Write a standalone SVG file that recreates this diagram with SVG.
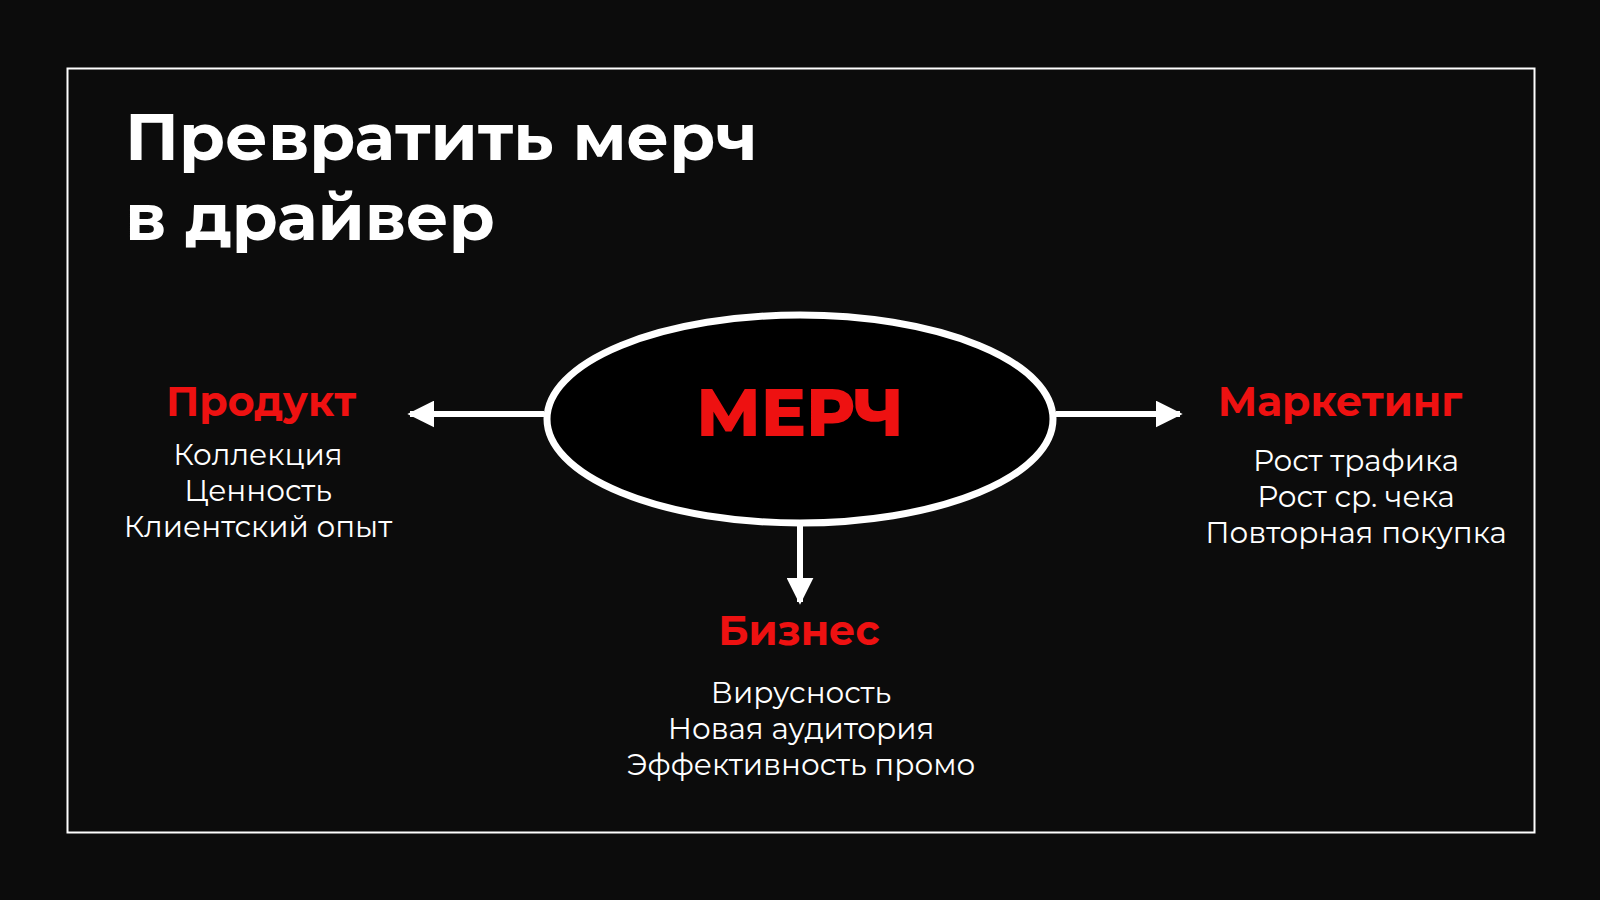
<svg xmlns="http://www.w3.org/2000/svg" width="1600" height="900" viewBox="0 0 1600 900">
<style>
.t{font-family:Montserrat,"Noto Sans","DejaVu Sans",sans-serif;fill:#fff}
.h{font-weight:700;fill:#ee1111;font-size:41px;text-anchor:middle}
.i{font-size:29.5px;text-anchor:middle}
.c{stroke:#fff;stroke-width:6;fill:none}
</style>
<defs><marker id="a" viewBox="0 0 10 10" refX="9" refY="5" markerWidth="4.5" markerHeight="4.5" orient="auto" markerUnits="strokeWidth"><path d="M0,0L10,5L0,10z" fill="#fff"/></marker></defs>
<rect width="1600" height="900" fill="#0c0c0c"/>
<rect x="67.5" y="68.5" width="1467" height="764" fill="none" stroke="#fff" stroke-width="2"/>
<text class="t" x="125" y="160" font-size="66.5" font-weight="700">Превратить мерч</text>
<text class="t" x="125" y="240" font-size="66.5" font-weight="700">в драйвер</text>
<g id="connectors">
<line class="c" x1="544" y1="414" x2="410" y2="414" marker-end="url(#a)"/>
<line class="c" x1="1056" y1="414" x2="1180" y2="414" marker-end="url(#a)"/>
<line class="c" x1="800" y1="525" x2="800" y2="602" marker-end="url(#a)"/>
</g>
<g id="merch">
<ellipse cx="800" cy="419" rx="253" ry="104" fill="#000" stroke="#fff" stroke-width="7"/>
<text class="t h" x="800" y="436" style="font-size:67px;font-weight:800">МЕРЧ</text>
</g>
<g id="product">
<text class="t h" x="261" y="416">Продукт</text>
<text class="t i" x="258" y="465">Коллекция</text>
<text class="t i" x="258" y="501">Ценность</text>
<text class="t i" x="258" y="537">Клиентский опыт</text>
</g>
<g id="marketing">
<text class="t h" x="1340" y="416">Маркетинг</text>
<text class="t i" x="1356" y="471">Рост трафика</text>
<text class="t i" x="1356" y="507">Рост ср. чека</text>
<text class="t i" x="1356" y="543">Повторная покупка</text>
</g>
<g id="business">
<text class="t h" x="799" y="645">Бизнес</text>
<text class="t i" x="801" y="703">Вирусность</text>
<text class="t i" x="801" y="739">Новая аудитория</text>
<text class="t i" x="801" y="775">Эффективность промо</text>
</g>
</svg>
